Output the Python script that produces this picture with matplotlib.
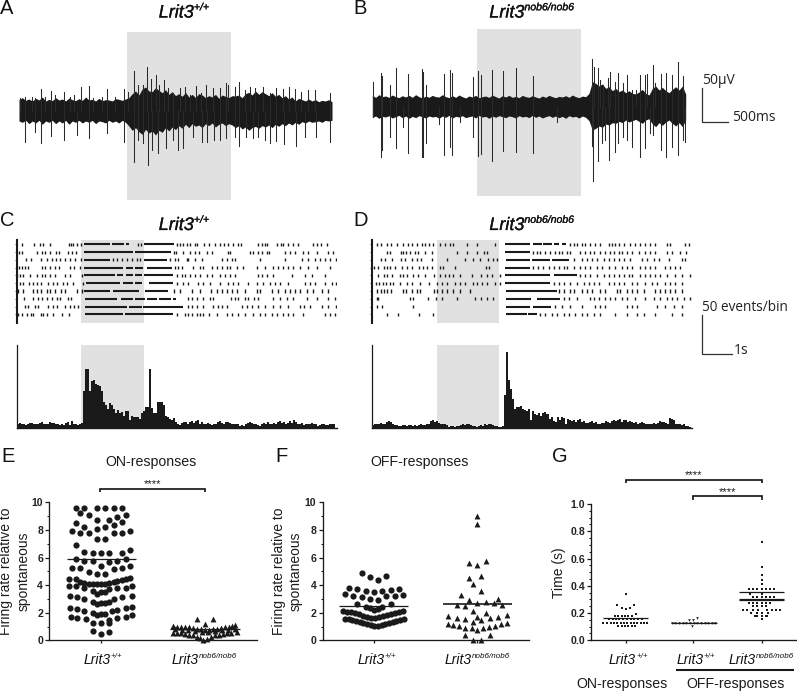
import matplotlib
matplotlib.use('Agg')
import matplotlib.pyplot as plt
import matplotlib.patheffects as pe
import numpy as np

plt.rcParams['font.family'] = 'Liberation Sans'

WIDTH, HEIGHT = 797, 692
DARK = '#1a1a1a'
SHADE = '#e1e1e1'
WT_SUP = '+/+'
KO_SUP = 'nob6/nob6'

# --- A: extracellular trace, band edges every 10 samples from sample 57, then single spikes (sample, amplitude)
a_band_up = [34, 40, 32, 36, 30, 38, 33, 42, 30, 35, 31, 40, 33, 36, 30, 39, 34, 31, 37, 32, 42, 33, 35, 30, 38, 31, 34, 33, 30, 37, 35, 32, 36,
             40, 52, 60, 48, 66, 72, 60, 58, 70, 62, 55, 64, 50, 58, 46, 52, 44, 56, 42, 50, 40, 52, 48, 40, 46, 42, 50, 38, 48, 44, 40, 46,
             45, 48, 40, 52, 56, 48, 60, 50, 58, 52, 46, 55, 44, 50, 40, 46, 36, 42, 30, 38, 34, 30, 36, 30, 34, 28, 32, 30, 34, 28]
a_band_dn = [-30, -34, -28, -38, -30, -36, -28, -40, -30, -34, -28, -38, -30, -36, -28, -40, -30, -34, -28, -36, -30, -34, -28, -38, -30, -32, -36, -28, -34, -30, -36, -28, -34,
             -45, -58, -50, -62, -70, -55, -66, -60, -72, -58, -64, -50, -60, -48, -56, -44, -52, -40, -50, -38, -46, -42, -50, -38, -44, -36, -48, -40, -36, -44, -38, -42,
             -50, -44, -54, -48, -58, -50, -46, -52, -44, -48, -42, -50, -40, -46, -38, -44, -36, -42, -34, -40, -32, -36, -30, -34, -32, -30, -34, -28, -30, -28]
a_up = [(60, 38), (75, 43), (95, 43), (105, 38), (123, 65), (135, 43), (153, 61), (165, 48), (193, 58),
        (210, 43), (222, 48), (242, 71), (266, 75), (280, 38), (305, 43), (322, 67), (345, 43), (372, 65),
        (385, 58), (403, 121), (415, 78), (430, 78), (441, 131), (452, 95), (467, 108), (478, 78), (492, 93),
        (505, 68), (520, 53), (540, 68), (555, 73), (570, 48), (590, 75), (605, 53), (618, 78), (640, 68),
        (660, 68), (678, 83), (685, 78), (705, 71), (718, 88), (735, 63), (750, 71), (765, 68), (790, 71),
        (812, 53), (830, 68), (850, 65), (868, 71), (885, 65), (905, 58), (925, 63), (945, 63), (990, 53)]
a_dn = [(75, -92), (105, -62), (123, -97), (153, -75), (193, -87), (232, -72), (266, -82), (322, -67),
        (372, -92), (403, -152), (415, -87), (430, -97), (444, -162), (455, -117), (475, -127), (497, -112),
        (520, -87), (535, -117), (550, -112), (580, -77), (608, -92), (622, -92), (642, -87), (662, -87),
        (680, -82), (705, -77), (718, -104), (738, -77), (760, -82), (775, -77), (795, -87), (812, -95),
        (828, -89), (853, -100), (888, -104), (915, -77), (950, -77), (990, -92)]

# --- B: trace
b_band_up = [34, 28, 36, 30, 32, 28, 35, 30, 27, 33, 29, 34, 28, 36, 30, 26, 32, 28, 34, 30, 29, 36, 30, 27, 33, 28, 35, 30, 26, 32, 29, 34, 27, 30, 32, 28, 35, 30, 26, 33,
             29, 34, 28, 31, 27, 34, 30, 28, 33, 29, 26, 32, 28, 34, 30, 27, 31, 29, 33, 28, 35, 30, 27, 32, 30,
             40, 75, 70, 62, 68, 55, 60, 48, 55, 45, 50, 42, 48, 40, 38, 44, 52, 40, 35, 55, 62, 50, 58, 48, 42, 52, 60, 50, 62, 38]
b_band_dn = [-32, -28, -35, -29, -31, -27, -34, -30, -26, -33, -28, -35, -29, -33, -27, -30, -34, -28, -31, -29, -35, -28, -32, -26, -34, -29, -31, -27, -33, -30, -28, -34, -26, -31, -29, -35, -28, -32, -27, -30,
             -33, -28, -30, -34, -27, -31, -29, -33, -26, -32, -28, -34, -30, -27, -32, -28, -33, -29, -35, -27, -31, -29, -34, -28, -32,
             -42, -70, -65, -58, -62, -52, -55, -48, -50, -44, -48, -40, -46, -42, -38, -44, -50, -40, -36, -52, -60, -48, -56, -46, -40, -50, -58, -48, -60, -40]
b_up = [(38, 75), (62, 100), (67, 92), (90, 65), (107, 115), (145, 98), (185, 113), (190, 105), (197, 65),
        (253, 98), (270, 110), (276, 100), (340, 88), (354, 107), (362, 95), (396, 110), (428, 108),
        (468, 115), (520, 92), (697, 142), (703, 120), (713, 117), (720, 80), (730, 65), (745, 85),
        (750, 103), (765, 75), (775, 102), (790, 70), (800, 95), (815, 50), (828, 50), (840, 95), (855, 95),
        (860, 98), (878, 125), (885, 70), (903, 98), (918, 102), (935, 95), (953, 135), (970, 92)]
b_dn = [(38, -30), (62, -150), (67, -130), (90, -92), (107, -123), (128, -62), (145, -140), (185, -152),
        (190, -150), (197, -110), (237, -52), (253, -145), (270, -120), (277, -145), (300, -45), (340, -90),
        (354, -148), (362, -142), (396, -162), (428, -132), (468, -135), (520, -138), (590, -45), (695, -117),
        (699, -222), (713, -162), (725, -110), (735, -100), (748, -160), (765, -135), (775, -110), (790, -90),
        (800, -100), (815, -120), (840, -150), (855, -125), (870, -80), (880, -85), (903, -130), (918, -150),
        (935, -120), (953, -145), (970, -100), (975, -105)]

# --- C: raster, single spikes and dense runs for each of the 10 sweeps
c_ticks = [
    [67, 103, 120, 128, 150, 207, 213, 220, 230, 243, 415, 422, 530, 540, 550, 562, 570, 585, 592, 612, 628, 645, 660, 672, 685, 700, 714, 722, 775, 785, 795, 802, 830, 842, 850, 865, 880, 895, 940, 950, 962, 980],
    [58, 65, 110, 125, 135, 150, 168, 178, 205, 215, 228, 522, 527, 550, 570, 585, 598, 620, 635, 685, 690, 750, 760, 775, 785, 800, 808, 855, 870, 885, 910, 925, 950, 985, 1000],
    [78, 92, 122, 140, 155, 168, 180, 195, 210, 225, 243, 340, 350, 365, 380, 395, 410, 420, 510, 525, 535, 560, 565, 585, 605, 665, 680, 695, 705, 780, 855, 905, 925, 945, 960, 975, 990, 1008],
    [57, 65, 75, 85, 125, 135, 150, 165, 178, 210, 222, 240, 525, 535, 545, 580, 600, 610, 635, 650, 665, 680, 690, 710, 730, 770, 795, 820, 835, 850, 865, 880, 900, 925, 950, 990],
    [50, 60, 70, 90, 112, 125, 135, 150, 165, 195, 210, 245, 530, 545, 555, 570, 585, 600, 620, 635, 660, 675, 690, 705, 775, 785, 800, 820, 875, 915, 935, 975],
    [60, 68, 88, 100, 110, 122, 145, 158, 172, 190, 200, 218, 248, 530, 550, 565, 595, 610, 630, 660, 685, 700, 715, 745, 770, 790, 810, 825, 840, 865, 915, 930, 945, 975, 995, 1008],
    [55, 68, 100, 112, 122, 140, 150, 165, 182, 195, 232, 245, 522, 540, 575, 600, 632, 650, 665, 680, 695, 712, 735, 770, 780, 815, 835, 855, 870, 885, 900, 920, 940, 965, 985],
    [72, 100, 115, 125, 140, 155, 170, 180, 205, 213, 565, 575, 590, 610, 630, 640, 692, 705, 715, 735, 745, 762, 775, 820, 840, 860, 880, 920, 950, 985, 1005],
    [75, 85, 105, 115, 145, 160, 170, 195, 210, 222, 235, 565, 575, 590, 610, 640, 655, 665, 680, 725, 740, 755, 775, 795, 820, 840, 865, 900, 912, 930, 965, 985, 1008],
    [55, 65, 82, 92, 100, 122, 130, 140, 160, 185, 208, 530, 555, 565, 575, 590, 600, 610, 628, 650, 680, 695, 715, 735, 760, 780, 795, 815, 830, 850, 865, 880, 910, 975, 990, 1005],
]
c_runs = [
    [(252, 330), (335, 372), (378, 388), (432, 522)],
    [(253, 400), (405, 512)],
    [(252, 330), (433, 500)],
    [(252, 370), (378, 400), (405, 428), (442, 515)],
    [(252, 345), (350, 370), (378, 400), (405, 425), (433, 520)],
    [(258, 360), (368, 398), (405, 425), (448, 520)],
    [(252, 330), (338, 418), (435, 505)],
    [(255, 350), (362, 400), (405, 435), (440, 470), (478, 512), (518, 528)],
    [(255, 380), (388, 425), (430, 550)],
    [(255, 368), (375, 520)],
]

# --- D: raster
d_ticks = [
    [52, 62, 82, 92, 112, 130, 145, 155, 172, 185, 195, 208, 218, 240, 255, 270, 280, 322, 350, 405, 630, 640, 650, 665, 675, 690, 705, 718, 745, 755, 765, 775, 790, 810, 825, 840, 855, 870, 885, 920, 930, 975, 985],
    [82, 90, 122, 130, 138, 150, 165, 175, 195, 215, 290, 320, 350, 372, 380, 520, 530, 540, 555, 570, 585, 595, 605, 620, 628, 660, 675, 690, 700, 720, 735, 750, 760, 775, 785, 800, 815, 835, 855, 870, 885, 920, 935, 960, 978],
    [62, 75, 95, 122, 135, 155, 170, 182, 215, 260, 315, 340, 360, 385, 400, 412, 640, 665, 680, 695, 710, 730, 745, 760, 775, 790, 810, 845, 860, 880, 895, 925, 965, 975],
    [42, 55, 72, 82, 90, 105, 125, 140, 155, 178, 190, 200, 215, 240, 250, 285, 378, 388, 520, 535, 550, 565, 580, 595, 610, 620, 640, 660, 675, 690, 710, 725, 745, 765, 785, 800, 815, 840, 855, 870, 885, 915, 930, 945, 960],
    [55, 72, 82, 95, 120, 130, 140, 160, 175, 195, 222, 240, 255, 268, 280, 300, 335, 362, 380, 395, 420, 660, 675, 690, 710, 730, 745, 760, 775, 790, 805, 815, 840, 855, 870, 885, 900, 920, 945, 965, 990],
    [48, 58, 68, 78, 90, 100, 120, 140, 155, 180, 208, 230, 245, 262, 285, 300, 315, 340, 352, 365, 380, 405, 420, 580, 595, 610, 630, 650, 670, 685, 700, 715, 745, 760, 775, 790, 815, 830, 855, 875, 890, 915, 930, 945, 965],
    [52, 62, 72, 82, 92, 130, 138, 155, 170, 180, 222, 232, 245, 262, 280, 300, 330, 597, 610, 630, 640, 665, 680, 695, 720, 735, 770, 780, 800, 815, 830, 850, 885, 900, 915, 930, 945, 965],
    [50, 55, 150, 160, 205, 228, 245, 292, 345, 362, 380, 400, 610, 625, 650, 690, 700, 715, 735, 750, 765, 785, 800, 825, 855, 880, 900, 920, 935, 950, 970, 990],
    [52, 65, 158, 585, 605, 630, 665, 705, 720, 735, 800, 815, 830, 890, 915, 940, 965],
    [80, 115, 178, 218, 540, 555, 575, 590, 610, 625, 645, 665, 680, 700, 720, 765, 800, 830, 850, 885, 935, 965],
]
d_runs = [
    [(435, 510), (520, 545), (550, 575), (582, 595), (605, 618)],
    [(435, 510)],
    [(437, 510), (515, 570), (575, 625)],
    [(435, 510)],
    [(435, 570), (580, 650)],
    [(435, 570)],
    [(437, 590)],
    [(437, 512), (530, 600)],
    [(437, 510), (518, 572)],
    [(437, 500), (505, 530)],
]

# --- C, D: histograms, events per bin
c_counts = [6, 7, 6, 5, 4, 5, 7, 7, 6, 6, 5, 7, 8, 6, 5, 6, 8, 7, 7, 6, 5, 4, 5, 4, 7, 8, 4, 9, 5, 6, 4, 5, 7,
            48, 76, 76, 48, 60, 62, 57, 55, 54, 47, 34, 30, 24, 32, 30, 25, 20, 23, 20, 21, 16, 22, 22, 10, 16, 14,
            14, 14, 12, 20, 22, 27, 27, 75, 26, 20, 19, 33, 33, 33, 30, 16, 14, 12, 10, 13, 8, 5, 4,
            7, 8, 8, 6, 8, 9, 7, 9, 10, 6, 8, 5, 6, 7, 5, 4, 6, 6, 8, 9, 7, 6, 8, 8, 7, 6, 5, 5, 5, 3, 4, 3, 6, 7, 8,
            7, 6, 6, 4, 3, 6, 7, 5, 8, 6, 5, 7, 6, 8, 9, 7, 8, 6, 7, 9, 7, 10, 8, 6, 5, 7, 4, 5, 6, 5, 7, 6, 5, 3, 4,
            6, 5, 4, 4, 6, 5, 5]
d_counts = [4, 5, 6, 5, 7, 6, 5, 8, 9, 8, 6, 4, 4, 3, 3, 4, 4, 3, 4, 4, 3, 4, 3, 4, 5, 4, 4, 5, 6, 9, 10, 8, 9, 7,
            5, 6, 5, 4, 2, 3, 3, 2, 3, 3, 4, 5, 4, 6, 5, 4, 3, 3, 2, 3, 4, 3, 5, 4, 6, 5, 4, 3, 3, 2, 2, 3,
            42, 97, 61, 50, 37, 25, 27, 27, 28, 24, 23, 22, 24, 10, 22, 18, 17, 19, 16, 20, 21, 18, 12, 14, 9, 8, 15,
            10, 14, 13, 6, 12, 10, 9, 10, 8, 10, 12, 8, 9, 7, 7, 8,
            9, 7, 8, 6, 6, 7, 7, 9, 8, 7, 9, 10, 9, 11, 12, 8, 11, 10, 8, 9, 8, 7, 8, 6, 7, 8, 7, 6, 6, 5, 5, 7, 6, 7,
            9, 8, 8, 7, 6, 13, 12, 10, 5, 6, 6, 4, 5, 3, 3, 2]

# --- E: firing rate ON, swarm column / value
e_wt = [(228, 9.57), (253, 9.57), (291, 9.57), (316, 9.57), (341, 9.57), (366, 9.57), (241, 9.25), (378, 9.1),
        (266, 9.05), (352, 8.9), (291, 8.7), (327, 8.7), (366, 8.6), (228, 8.5), (341, 8.35), (253, 8.2), (316, 8.2),
        (291, 8.05), (215, 7.95), (391, 7.9), (241, 7.8), (266, 7.75), (341, 7.75), (366, 7.75), (291, 7.35),
        (316, 7.35), (228, 6.9), (253, 6.4), (391, 6.55), (278, 6.35), (304, 6.3), (328, 6.35), (366, 6.35),
        (228, 5.9), (378, 5.9), (253, 5.75), (278, 5.75), (352, 5.75), (328, 5.7), (304, 5.4), (241, 5.27),
        (215, 5.27), (391, 5.35), (366, 5.27), (341, 5.15), (266, 4.93), (291, 4.78), (316, 4.78), (391, 4.54),
        (228, 4.42), (208, 4.42), (378, 4.42), (241, 4.2), (352, 4.27), (366, 4.37), (253, 4.13), (341, 4.2),
        (328, 4.13), (266, 4.08), (316, 4.05), (291, 4.05), (304, 4.05), (278, 4.05), (396, 3.96), (208, 3.9),
        (228, 3.9), (378, 3.82), (253, 3.82), (352, 3.82), (328, 3.72), (278, 3.6), (304, 3.48), (316, 3.48),
        (291, 3.36), (396, 3.2), (210, 3.2), (366, 3.12), (232, 3.12), (341, 3.0), (253, 2.97), (278, 2.8),
        (328, 2.8), (303, 2.68), (316, 2.68), (291, 2.65), (396, 2.44), (210, 2.37), (378, 2.32), (232, 2.25),
        (352, 2.2), (253, 2.15), (335, 2.15), (278, 1.96), (316, 1.9), (291, 1.86), (303, 1.88), (396, 1.8),
        (212, 1.7), (232, 1.64), (378, 1.67), (352, 1.6), (257, 1.52), (328, 1.47), (278, 1.28), (303, 1.23),
        (328, 1.28), (278, 0.65), (328, 0.63), (303, 0.46)]
e_ko = [(520, 1.05), (532, 1.0), (544, 1.0), (556, 0.95), (568, 0.95), (580, 0.9), (592, 0.85), (604, 0.8),
        (616, 0.75), (628, 0.75), (640, 0.8), (652, 0.85), (664, 0.9), (676, 0.95), (688, 1.0), (696, 1.05),
        (705, 1.1), (525, 0.8), (545, 0.75), (565, 0.72), (585, 0.68), (605, 0.62), (625, 0.6), (645, 0.65),
        (665, 0.72), (685, 0.78), (705, 0.85), (520, 0.55), (532, 0.55), (544, 0.5), (556, 0.45), (568, 0.4),
        (578, 0.35), (590, 0.25), (600, 0.15), (608, 0.0), (622, 0.1), (634, 0.25), (646, 0.35), (658, 0.4),
        (670, 0.45), (682, 0.5), (694, 0.55), (710, 0.6), (590, 1.55), (639, 1.55), (614, 1.2)]
e_mean = [5.9, 0.8]

# --- F: firing rate OFF
f_wt = [(275, 4.85), (299, 4.6), (324, 4.37), (349, 4.68), (238, 3.8), (262, 3.7), (287, 3.6), (311, 3.52), (336, 3.57),
        (362, 3.67), (386, 3.74), (225, 3.33), (250, 3.24), (275, 3.12), (299, 3.0), (324, 2.92), (349, 3.2), (374, 3.24),
        (398, 3.3), (262, 2.66), (362, 2.63), (287, 2.44), (299, 2.32), (311, 2.2), (324, 2.25), (336, 2.44),
        (220, 2.1), (232, 2.08), (244, 2.03), (256, 1.96), (268, 1.87), (280, 1.76), (292, 1.7), (304, 1.64), (316, 1.64),
        (328, 1.7), (340, 1.76), (352, 1.84), (364, 1.93), (376, 2.0), (388, 2.08), (400, 2.1),
        (225, 1.55), (236, 1.52), (247, 1.47), (258, 1.42), (269, 1.35), (280, 1.28), (291, 1.2), (302, 1.12), (313, 1.06),
        (324, 1.06), (335, 1.1), (346, 1.18), (357, 1.25), (368, 1.32), (379, 1.4), (390, 1.47), (401, 1.55)]
f_ko = [(622, 9.0), (622, 8.4), (597, 5.63), (622, 5.48), (647, 5.75), (597, 4.5), (634, 4.63), (610, 4.08), (634, 3.6),
        (572, 3.26), (597, 2.9), (685, 2.97), (622, 2.68), (647, 2.8), (560, 2.56), (585, 2.46), (672, 2.68), (697, 2.56),
        (610, 2.15), (647, 2.0), (535, 1.79), (560, 1.62), (585, 1.55), (622, 1.7), (660, 1.6), (685, 1.67), (710, 1.84),
        (610, 1.35), (634, 1.47), (533, 1.2), (550, 1.13), (568, 1.04), (585, 0.92), (605, 0.92), (622, 0.75), (640, 0.87),
        (657, 0.94), (675, 1.06), (693, 1.18), (712, 1.25), (585, 0.36), (660, 0.41), (610, 0.0), (634, 0.0)]
f_mean = [2.45, 2.65]

# --- G: response time
g_on = [(257, 0.34), (232, 0.26), (245, 0.24), (257, 0.23), (270, 0.24), (281, 0.26),
        (225, 0.18), (235, 0.18), (245, 0.18), (255, 0.18), (265, 0.18), (275, 0.18), (288, 0.19),
        (208, 0.155), (218, 0.155), (228, 0.155), (238, 0.155), (250, 0.155), (262, 0.155), (272, 0.155), (283, 0.155), (295, 0.155), (305, 0.155),
        (190, 0.13), (200, 0.13), (212, 0.13), (222, 0.13), (232, 0.13), (242, 0.13), (252, 0.13), (262, 0.13), (272, 0.13), (282, 0.13), (292, 0.13), (302, 0.13), (312, 0.13), (320, 0.13),
        (235, 0.107), (245, 0.107), (255, 0.107), (265, 0.107), (275, 0.107), (285, 0.107)]
g_off_wt = [(395, 0.127), (406, 0.127), (417, 0.127), (428, 0.127), (439, 0.127), (450, 0.127), (461, 0.127), (472, 0.127),
            (483, 0.127), (494, 0.127), (505, 0.127), (516, 0.127), (525, 0.127), (447, 0.147), (460, 0.147), (472, 0.164), (455, 0.103)]
g_off_ko = [(665, 0.72), (665, 0.54), (665, 0.48), (665, 0.44), (665, 0.41), (628, 0.38), (640, 0.38), (652, 0.38), (665, 0.38),
            (677, 0.38), (690, 0.38), (703, 0.38), (630, 0.34), (665, 0.34), (640, 0.315), (652, 0.315), (665, 0.315), (677, 0.315),
            (690, 0.315), (703, 0.315), (628, 0.27), (640, 0.27), (652, 0.27), (665, 0.27), (677, 0.27), (690, 0.27), (640, 0.255),
            (652, 0.255), (665, 0.255), (677, 0.255), (610, 0.22), (622, 0.22), (640, 0.22), (655, 0.22), (680, 0.22), (695, 0.22),
            (708, 0.22), (720, 0.22), (633, 0.2), (650, 0.2), (665, 0.2), (685, 0.2), (645, 0.18), (665, 0.18), (680, 0.18),
            (650, 0.175), (678, 0.175), (665, 0.157)]
g_mean = [0.165, 0.127]
g_ko_lines = [0.352, 0.305, 0.295]


def px_axes(x0, y0, x1, y1):
    # axes placed by pixel box of the reference
    ax = fig.add_axes([x0 / WIDTH, 1 - y1 / HEIGHT, (x1 - x0) / WIDTH, (y1 - y0) / HEIGHT])
    ax.patch.set_alpha(0)
    return ax


def label(x, y, s, **kw):
    kw.setdefault('ha', 'center')
    kw.setdefault('va', 'center')
    kw.setdefault('color', '#1c1c1c')
    return fig.text(x / WIDTH, 1 - y / HEIGHT, s, **kw)


def gene(x, base_y, sup, size, heavy=False):
    # italic gene name with small raised genotype, x is the left edge, base_y the baseline in pixels
    em = size / 0.72
    a = label(x, base_y, 'Lrit3', fontsize=size, style='italic', ha='left', va='baseline', color='#111111')
    b = label(x + 1.95 * em, base_y - 0.40 * em, sup, fontsize=size * 0.58, style='italic', ha='left', va='baseline', color='#111111')
    if heavy:
        for t in (a, b):
            t.set_path_effects([pe.withStroke(linewidth=0.2, foreground='#111111')])


def draw_trace(box, xlim, ylim, shade, band_up, band_dn, up, dn):
    ax = px_axes(*box)
    ax.axvspan(shade[0], shade[1], color=SHADE, lw=0)
    band_x = xlim[0] + 10 * np.arange(len(band_up))
    ax.fill_between(band_x, band_dn, band_up, color=DARK, lw=0)
    for x, y in up + dn:
        ax.plot([x, x], [0, y], color='#2a2a2a', lw=0.75)
    ax.set_xlim(*xlim)
    ax.set_ylim(*ylim)
    ax.axis('off')


def draw_raster(box, xlim, shade, ticks, runs):
    ax = px_axes(*box)
    ax.axvspan(shade[0], shade[1], color=SHADE, lw=0)
    rows = np.arange(1, len(ticks) + 1)
    ax.eventplot(ticks, lineoffsets=rows, linelengths=0.4, linewidths=1.0, colors=DARK)
    for row, segs in zip(rows, runs):
        for a, b in segs:
            ax.plot([a, b], [row, row], color=DARK, lw=1.5, solid_capstyle='butt')
    ax.set_xlim(*xlim)
    ax.set_ylim(11.16, 0.44)
    for s in ['top', 'right', 'bottom']:
        ax.spines[s].set_visible(False)
    ax.spines['left'].set_linewidth(1.5)
    ax.spines['left'].set_color(DARK)
    ax.set_xticks([])
    ax.set_yticks(rows)
    ax.set_yticklabels([])
    ax.tick_params(axis='y', length=1.8, width=0.5, color=DARK)


def draw_hist(box, xlim, shade, start, bin_w, counts):
    ax = px_axes(*box)
    ax.axvspan(shade[0], shade[1], color=SHADE, lw=0)
    edges = start + bin_w * np.arange(len(counts))
    ax.bar(edges, counts, width=bin_w, align='edge', color=DARK, lw=0)
    ax.set_xlim(*xlim)
    ax.set_ylim(0, 106)
    for s in ['top', 'right']:
        ax.spines[s].set_visible(False)
    ax.spines['bottom'].set_linewidth(1.0)
    ax.spines['bottom'].set_color(DARK)
    ax.spines['left'].set_linewidth(0.9)
    ax.spines['left'].set_color(DARK)
    ax.set_xticks([])
    ax.set_yticks([])


def swarm_axes(box, xlim, ylim, ticks, yticks, yfmt, minor):
    ax = px_axes(*box)
    ax.set_xlim(*xlim)
    ax.set_ylim(*ylim)
    for s in ['top', 'right']:
        ax.spines[s].set_visible(False)
    for s in ['left', 'bottom']:
        ax.spines[s].set_linewidth(0.95)
        ax.spines[s].set_color(DARK)
    ax.set_xticks(ticks)
    ax.set_xticklabels([])
    ax.set_yticks(yticks)
    ax.set_yticklabels([yfmt % v for v in yticks], fontsize=7.6, fontweight='bold', color='#222222')
    ax.set_yticks(minor, minor=True)
    ax.tick_params(axis='y', which='major', length=3, width=0.9, pad=1.5, color=DARK)
    ax.tick_params(axis='y', which='minor', length=1.8, width=0.8, color=DARK)
    ax.tick_params(axis='x', length=2.5, width=0.9, color=DARK)
    return ax


def points(ax, data, marker, size):
    xs, ys = zip(*data)
    ax.scatter(xs, ys, marker=marker, s=size, color=DARK, lw=0, clip_on=False, zorder=3)


def mean_line(ax, x0, x1, y, lw=0.9):
    ax.plot([x0, x1], [y, y], color=DARK, lw=lw, solid_capstyle='butt', zorder=4)


def bracket(ax, x0, x1, y, drop, star_y):
    ax.plot([x0, x0, x1, x1], [y - drop, y, y, y - drop], color=DARK, lw=1.25, clip_on=False,
            solid_joinstyle='miter', solid_capstyle='butt')
    ax.text((x0 + x1) / 2, star_y, '****', ha='center', va='center', fontsize=8.2, color=DARK)


fig = plt.figure(figsize=(WIDTH / 100, HEIGHT / 100), dpi=100)

# traces
draw_trace((19, 32, 332, 200), (57, 997), (-267, 237), (381, 693), a_band_up, a_band_dn, a_up, a_dn)
draw_trace((372.3, 29, 685.7, 195.7), (37, 977), (-267, 233), (351, 664), b_band_up, b_band_dn, b_up, b_dn)

# rasters and histograms
draw_raster((17, 240, 337, 323.3), (51, 1011), (244, 433), c_ticks, c_runs)
draw_raster((372.3, 240, 692, 323.3), (37, 995), (230, 418), d_ticks, d_runs)
draw_hist((17, 345, 337, 428.3), (51, 1011), (244, 433), 51, 6, c_counts)
draw_hist((372.3, 345, 692, 428.3), (37, 995), (230, 418), 37, 6, d_counts)

# panel E
ax_e = swarm_axes((49.3, 502.3, 256.7, 640.3), (148, 770), (0, 10), [302, 613],
                  list(range(0, 11, 2)), '%d', list(range(1, 10, 2)))
points(ax_e, e_wt, 'o', 20)
points(ax_e, e_ko, '^', 18)
mean_line(ax_e, 200, 408, e_mean[0])
mean_line(ax_e, 510, 720, e_mean[1])
bracket(ax_e, 300, 614, 10.97, 0.25, 11.3)

# panel F
ax_f = swarm_axes((322.7, 502.3, 529.3, 640.3), (158, 778), (0, 10), [312, 622],
                  list(range(0, 11, 2)), '%d', list(range(1, 10, 2)))
points(ax_f, f_wt, 'o', 20)
points(ax_f, f_ko, '^', 18)
mean_line(ax_f, 208, 415, f_mean[0])
mean_line(ax_f, 520, 725, f_mean[1], lw=1.2)

# panel G
ax_g = swarm_axes((591.3, 504, 796.7, 640.3), (154, 770), (0, 1), [257, 460, 665],
                  [0, 0.2, 0.4, 0.6, 0.8, 1.0], '%.1f', list(np.arange(0.05, 1.0, 0.05)))
points(ax_g, g_on, 's', 3.6)
points(ax_g, g_off_wt, 'v', 3.5)
points(ax_g, g_off_ko, 's', 4.6)
mean_line(ax_g, 188, 325, g_mean[0])
mean_line(ax_g, 392, 530, g_mean[1])
for v in g_ko_lines:
    mean_line(ax_g, 597, 733, v)
bracket(ax_g, 257, 665, 1.178, 0.026, 1.215)
bracket(ax_g, 458, 665, 1.056, 0.026, 1.09)
ax_g.plot([410, 760], [-0.22, -0.22], color=DARK, lw=1.5, clip_on=False)

# genotype titles and group labels
gene(158.7, 17.5, WT_SUP, 13, heavy=True)
gene(489.3, 17.5, KO_SUP, 13, heavy=True)
gene(158.7, 230, WT_SUP, 13, heavy=True)
gene(489.3, 230, KO_SUP, 13, heavy=True)
for x, sup in [(83.3, WT_SUP), (171.7, KO_SUP), (357.3, WT_SUP), (445, KO_SUP), (609, WT_SUP), (676.7, WT_SUP), (728.7, KO_SUP)]:
    gene(x, 664, sup, 10)

label(150.7, 462, 'ON-responses', fontsize=10.2)
label(420, 462, 'OFF-responses', fontsize=10.2)
label(622, 684, 'ON-responses', fontsize=10.2)
label(735.5, 684, 'OFF-responses', fontsize=10.2)

# y labels
label(15, 571, 'Firing rate relative to\nspontaneous', fontsize=10, rotation=90, linespacing=1.3)
label(287.5, 571, 'Firing rate relative to\nspontaneous', fontsize=10, rotation=90, linespacing=1.3)
label(559, 572.7, 'Time (s)', fontsize=10, rotation=90)

# panel letters
for s, x, y in [('A', 0, 8.5), ('B', 353, 8.5), ('C', 0, 220), ('D', 353, 220), ('E', 1, 456), ('F', 275, 456), ('G', 552, 457)]:
    label(x, y, s, fontsize=14.5, ha='left', color='#111111')

# scale bars
scale = px_axes(0, 0, WIDTH, HEIGHT)
scale.set_xlim(0, WIDTH)
scale.set_ylim(HEIGHT, 0)
scale.axis('off')
scale.plot([702.3, 702.3, 728.3], [88, 122, 122], color='#333333', lw=0.9)
scale.plot([702.3, 702.3, 731.7], [315, 354.3, 354.3], color='#333333', lw=0.9)
label(702, 80, '50µV', fontsize=10, ha='left', family='Open Sans', color='#222222')
label(732, 117.5, '500ms', fontsize=10, ha='left', family='Open Sans', color='#222222')
label(702.5, 307.5, '50 events/bin', fontsize=9.8, ha='left', family='Open Sans', color='#222222')
label(734, 351, '1s', fontsize=10, ha='left', family='Open Sans', color='#222222')

fig.savefig('out.png', dpi=100)
